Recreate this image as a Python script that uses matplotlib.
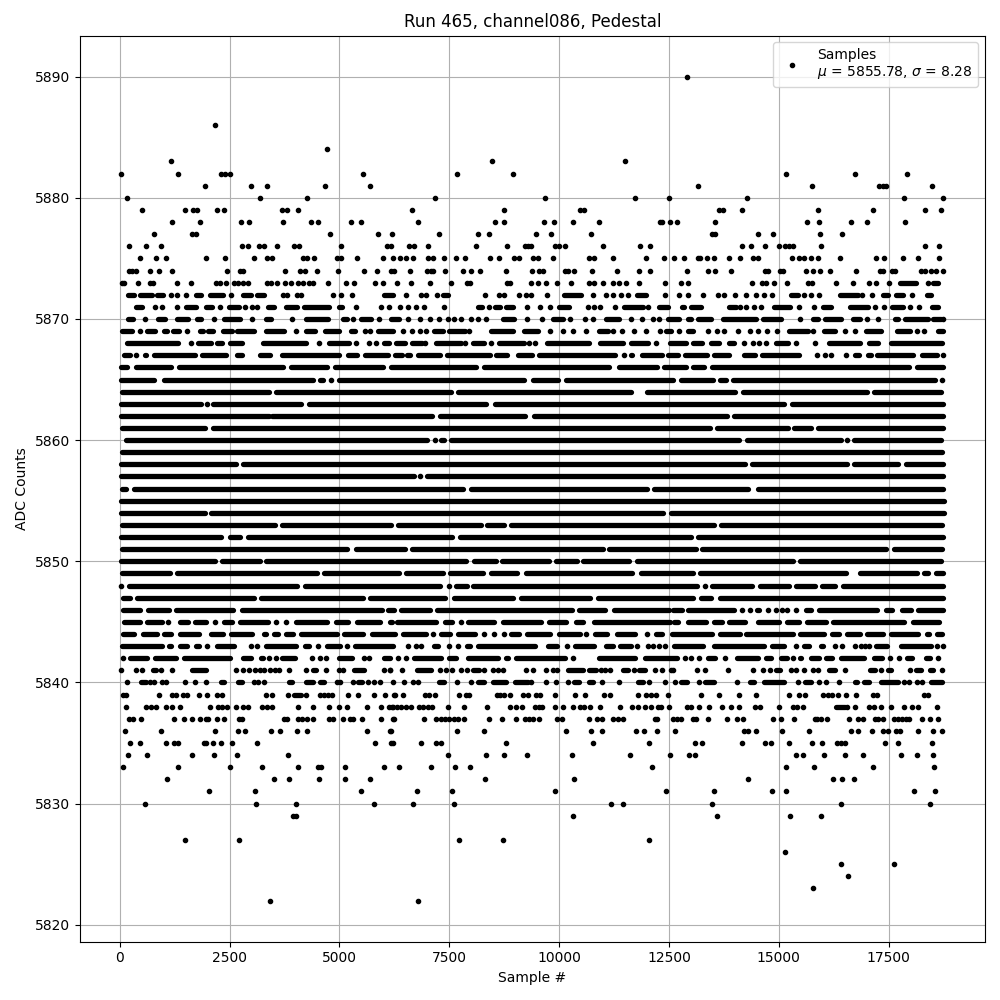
import matplotlib
matplotlib.use('Agg')
import matplotlib.pyplot as plt

# readings per ADC level: a plain number is one sample, (a, b) is a stretch of
# samples too dense to separate in the picture
r5890 = [12918]
r5886 = [2174]
r5884 = [4705]
r5883 = [1171, 8462, 11495]
r5882 = [31, 1331, 2311, 2395, 2516, 5526, 7664, 8941, 15161, 16735, 17920]
r5881 = [1946, 2995, 3360, 4660, 5686, 13155, 15754, 17282, 17373, 17449, 18490]
r5880 = [168, 3200, 4272, 7163, 9671, 11723, 12498, 14272, 17852, 18741]
r5879 = [510, 1490, 1673, 1764, 2220, 2380, 3694, 3816, 4067, 6661, 8736, 10476, 10560,
         13634, 13725, 14158, 15891, 17145, 18331, 18695]
r5878 = [1194, 1832, 2767, 2950, 3725, 4363, 4500, 5252, 5480, 6798, 8531, 8736, 9648, 9876,
         10309, 10902, 12300, 12346, 12521, 12676, 13543, 15640, 15914, 16643, 17008, 17875]
r5877 = [784, 1650, 1741, 4774, 5868, 6205, 7254, 8143, 8394, 9465, 9807, 10719,
         13474, 13543, 14523, 14865, 15937, 16438]
r5876 = [214, 601, 943, 2790, 2927, 3178, 3292, 3588, 3976, 4090, 5024, 6073, 6167, 6585, 6707,
         7026, 8097, 8804, 9215, 9283, 9351, 9899, 9990, 10127, 10993, 11837, 12065,
         14158, 14363, 14683, 15002, 15138, 15230, 15321, 15959, 18331, 18650]
r5875 = [464, 829, 1057, 1969, 2402, 3064, 3360, 3474, 4181, 4272, 4409, 4933, 5024, 5389, 5982,
         6228, 6387, 6524, 6684, 7026, 7140, 7368, 7641, 7847, 8417, 8622, 8964, 9078, 9397, 9511,
         9853, 10689, 10803, 11221, 11973, 12384, 12608, 12836, 13155, 13208, 13360, 13520, 13862,
         14113, 14409, 14523, 15298, 15458, 15572, 15731, 15891, 16393, 17213, 17396, 17829, 18171, 18650]
r5874 = [214, 282, 373, 692, 898, 1194, 2448, 2744, 2813, 3770, 4112, 4226, 4477, 4956, 5549, 5845,
         6167, 6251, 6615, 7003, 7079, 7140, 7413, 7801, 7983, 8188, 8781, 9374, 9534, 9625, 10127,
         10195, 10332, 10742, 11312, 11814, 12065, 12904, 13383, 13543, 13907, 14690, 14760, 15032,
         15093, 15617, 15777, 15937, 16165, 16757, 17297, 17373, 17586, 17647, 18247, 18323, 18467,
         18574, 18741]
r5873 = [54, 100, 419, 692, 761, 1308, 1627, 2197, 2288, 2425, 2608, 2699, 2813, 2927, 3360, 3451,
         3588, 3770, 3907, 4067, 4181, 4295, 4386, 4728, 5138, 5321, 5800, 5982, 6311, 6638, 7049,
         7527, 7892, 7976, 8804, 8880, 9351, 9511, 9693, 9944, 10263, 10674, 10788, 10993, 11221,
         11358, 11517, 11814, 12407, 12775, 12927, 14394, 14620, 14700, 14888, 15184, 15663, 15762,
         16309, 16689, 17054, 17213, 17510, (17753, 18118), 18399, (18500, 18627)]
r5872 = [(176, 328), (449, 723), (837, 989), 1156, 1308, 1513, (1741, 1840), (2053, 2357), 2539,
         (2805, 2980), (3132, 3284), 3717, 3816, 4044, 4120, 4842, 5024, 5283, (6020, 6225), 6524,
         6866, 6980, 7231, (7345, 7459), 8318, 8622, 8743, 9078, 9237, 9351, 9716, (10118, 10499),
         10765, 11061, 11236, 11403, 11563, (11768, 11981), 12399, 12737, 12927, 13269, 13611, 13748,
         14001, 14249, 14477, 14660, 14835, (15283, 15435), 15572, 15731, 15914, (16385, 16803), 16894,
         17122, (17373, 17487), (17677, 17829), 18034, (18376, 18475)]
r5871 = [(358, 510), 806, 966, 1293, (1498, 1741), (1954, 2106), 2288, (2486, 2714), 2858, 3003, 3132,
         (3383, 3512), (3778, 4044), (4196, 4766), (4994, 5055), 5366, 5936, 6119, 6387, 6570, 6752, 6935,
         7368, (8143, 8234), 8394, (8531, 8652), (8789, 8956), 9275, 9557, 9792, (10005, 10233), 10651,
         10788, 10925, 11267, (11472, 11905), 12019, (12262, 12475), (12798, 12850), (13003, 13231),
         (13862, 14029), 14113, 14249, 14432, 14591, (14880, 15245), 15450, 15800, (16005, 16195),
         (16613, 17031), 17191, 17396, (17586, 17829), 17996, 18194, (18490, 18627)]
r5870 = [(191, 297), 571, (875, 1027), (1308, 1559), (1764, 1840), 2152, (2372, 2737), 3018, (3322, 3436),
         3922, (4234, 4728), (5070, 5161), 5298, (5488, 5716), 5906, (6172, 6357), 6570, 6843, 7049, 7254,
         7459, 7596, 7755, 7983, 8143, 8333, (8713, 8979), 9275, 9602, (9853, 10081), 10256, 10598, 10780,
         (11069, 11373), 11639, 11882, 12133, 12270, (12475, 12737), (12927, 13000), (13155, 13459),
         (13725, 14485), (14637, 15055), 15481, (15777, 15891), (16043, 16423), (16689, 16856), 17008,
         17259, (17639, 17715), (17867, 18399), (18513, 18680), 18741]
r5869 = [(39, 267), 464, (624, 799), (1004, 1080), (1217, 1346), 1536, (1817, 1893), (2015, 2129),
         (2357, 2562), (2676, 3056), (3322, 3740), 4006, (4249, 4447), (4675, 4994), (5260, 5359), 5587,
         5693, (5868, 6210), 6456, 6661, 6843, 6980, (7155, 7345), (7497, 7850), 7953, (8447, 8941),
         (9207, 9511), 9792, 10081, 10309, 10613, (10917, 11107), 11221, 11426, 11700, 11966, 12300,
         (12437, 12551), 12737, (12927, 13041), 13383, 13588, 13748, 14082, 14348, 14523, 14721, 14964,
         (15230, 15663), 15777, (16020, 16271), 16514, 16735, (16993, 17335), (17700, 17996), 18148, 18308,
         (18627, 18741)]
r5868 = [(153, 1323), 1612, (1787, 2068), (2220, 2334), (2501, 2790), (3261, 4234), 4523, (4766, 5222), 5374,
         5678, 5830, (6020, 6134), (6296, 6494), (6661, 6889), 6950, (7193, 7763), 7847, (8029, 8295), 8447,
         (8637, 9207), 9321, 9458, (9716, 10689), (10932, 11449), (11639, 12019), 12201, (12513, 12889),
         (13041, 13254), (13459, 13649), (13862, 13991), 14204, 14409, 14546, 14713, (14941, 15207), 15397,
         15815, (16142, 16841), (17046, 17259), (17563, 18703)]
r5867 = [(100, 221), 373, (571, 601), (776, 1703), (1863, 2410), (2676, 2775), (3185, 3413), (3687, 4994),
         (5192, 5404), (5572, 6111), (6271, 6420), (6532, 6600), (6783, 7284), (7444, 8424), (8561, 8819),
         (9063, 9374), (9549, 11274), 11472, (11639, 11669), (11890, 12338), (12483, 12715), (12874, 13360),
         (13535, 13877), (14204, 14462), (14607, 15450), 15868, 16043, 16195, 16529, (16735, 16826),
         (17039, 17099), (17244, 18057), (18270, 18589), 18741]
r5866 = [(24, 160), (358, 1171), (1354, 3717), (3892, 4720), (4903, 5982), (6180, 8105), (8287, 11145),
         (11358, 12224), (12384, 12889), (13041, 13299), (13482, 17958), (18156, 18741)]
r5865 = [(24, 776), (1012, 4386), (4561, 4629), 4812, (4979, 9207), (9397, 9982), (10157, 12585),
         (12775, 13512), (13657, 13801), (13953, 18566), 18703]
r5864 = [(39, 3398), (3550, 7527), (7695, 11631), (12004, 14006), (14189, 17008), (17168, 18695)]
r5863 = [(20, 1855), 1992, (2129, 4135), (4310, 8333), (8546, 15108), (15291, 18741)]
r5862 = [(20, 3400), (3470, 7117), (7292, 9230), (9420, 13816), (13983, 18741)]
r5861 = [(39, 1946), (2114, 13436), (13596, 15199), (15351, 15731), (15883, 18741)]
r5860 = [(130, 6995), 7170, (7315, 7375), (7543, 14097), (14280, 16415), 16552, (16719, 18695)]
r5859 = [(39, 18710)]
r5858 = [(20, 2638), (2805, 14234), (14394, 16552), (16712, 17707), (17905, 18741)]
r5857 = [(20, 6691), 6828, (6988, 18741)]
r5856 = [(39, 145), (312, 7816), (7999, 11996), (12156, 14295), (14531, 18741)]
r5855 = [(20, 18756)]
r5854 = [(20, 1931), (2083, 12361), (12536, 18756)]
r5853 = [(39, 3527), (3687, 6164), (6332, 8211), (8363, 8751), (8911, 13535), (13695, 18718)]
r5852 = [(20, 2311), (2509, 2729), (2912, 7565), (7733, 12995), (13163, 18741)]
r5851 = [(39, 5176), (5374, 6486), (6646, 10993), (11145, 13117), (13254, 17449), (17624, 18718)]
r5850 = [(20, 2159), (2319, 3185), (3330, 7869), (8059, 8553), (8698, 9769), (9929, 10400), (10552, 11586),
         (11776, 15321), (15488, 18695)]
r5849 = [(39, 1133), (1293, 4477), (4644, 6357), (6509, 7345), (7520, 8257), (8455, 9047), (9245, 11654),
         (11852, 13041), (13216, 16529), (16841, 18148), (18308, 18391), (18574, 18741)]
r5848 = [20, (206, 4044), (4219, 7284), 7482, (7649, 7892), (8037, 13132), 13315, (13482, 14386), (14561, 15222),
         (15397, 15830), (15990, 16286), (16469, 18741)]
r5847 = [(62, 236), (388, 3064), (3216, 5541), (5701, 7398), (7603, 8956), (9139, 10704), (10887, 13056),
         (13231, 13451), (13672, 18741)]
r5846 = [(62, 449), (632, 1118), (1270, 2577), (2775, 5959), (6104, 6235), (6403, 7056), (7216, 10286),
         (10461, 11046), (11244, 12490), (12600, 12790), (12935, 13991), 14158, 14348, (14500, 14560), 14743,
         14941, 15078, 15192, 15397, (15625, 15739), (15914, 17236), (17434, 17578), (17814, 18019), (18179, 18741)]
r5845 = [(99, 449), (609, 966), 1103, (1369, 1551), (1711, 1954), 2167, (2380, 2547), (2737, 3383), 3565, 3778,
         (4006, 4705), (4918, 5199), (5397, 5921), (6157, 6190), (6311, 7193), (7406, 7550), 7755, (7923, 8515),
         (8713, 9579), (9777, 10157), (10385, 10552), (10795, 12520), (12608, 12714), (12935, 13345), (13535, 13702),
         (13877, 14234), (14531, 14994), (15192, 15450), (15640, 16081), (16241, 17844), (18057, 18642)]
r5844 = [(62, 320), (533, 844), (1004, 1171), (1361, 1802), (2068, 2349), (2532, 3018), (3276, 3322), (3520, 3611),
         (3778, 3945), (4128, 4933), (5108, 5526), (5739, 6258), (6441, 6965), 7140, (7315, 7512), (7695, 8082), 8280,
         8523, 8736, (8911, 9093), (9268, 9792), (9990, 10476), 10613, (10826, 11084), (11320, 11730), 12004,
         (12194, 12338), (12574, 13474), (13672, 14105), (14257, 15321), (15473, 16020), (16218, 16362), (16560, 16841),
         (17016, 17373), (17548, 18163), (18369, 18414), (18597, 18718)]
r5843 = [(39, 966), (1118, 1171), (1369, 1536), (1726, 1802), 1977, (2205, 2592), 2980, 3117, (3322, 4021),
         (4219, 4295), 4500, (4713, 5009), 5161, (5359, 6225), 6562, 6737, 6866, (7155, 7246), 7497, 7687,
         (7907, 7968), (8151, 9450), (9739, 9944), 10172, (10370, 10795), (11069, 11221), (11396, 11631), 11768,
         12019, 12133, 12262, 12407, (12612, 13269), (13520, 14652), (14850, 15108), 15382, (15572, 15678),
         (15952, 15997), 16271, 16446, 16735, 16864, 16955, 17054, (17206, 17464), (17776, 18475), 18604, 18741]
r5842 = [62, (229, 616), (799, 1285), (1468, 2516), (2813, 2995), (3216, 3261), 3406, 3550, (3702, 3983), 4371, 4553,
         4690, (4979, 5275), 5564, 5678, (6005, 6149), 6324, 6509, (6707, 7322), (7497, 7641), (7923, 8614),
         (8797, 8842), (9017, 10134), 10309, (10917, 11730), (11943, 12676), 12858, 12995, 13178, (13383, 13550),
         13786, (14037, 14515), (14698, 14819), (15040, 15184), 15321, (15488, 15511), (15724, 15906), (16081, 16210),
         (16408, 16932), (17168, 17350), 17525, 17730, (17913, 18034), (18346, 18452), 18627]
r5841 = [31, 358, 510, (753, 814), 943, 1194, (1635, 1969), 2638, 2805, 2942, 3079, 3185, 3292, 3428, 3527, 3626,
         3862, 4249, (4401, 4462), 4690, 4980, 5085, (5336, 5564), 6005, 6142, 6152, 6433, (6775, 7079), 7284, 7421,
         7565, 7755, 7892, (8029, 8166), 8295, 8485, 8599, 8713, 9245, 9397, 9701, 9853, 9944, (10195, 10537),
         (10689, 10841), 10955, 11054, 11160, (11449, 11563), 11715, (11814, 11943), 12171, 12338, 12551, 12585,
         13147, 13315, 13839, 14409, 14637, 14797, (14926, 15032), 15275, 15382, 15564, 15777, 15883, (16142, 16271),
         16507, (17069, 17183), 17327, (17487, 17563), 17981, (18118, 18225), (18437, 18513), 18711]
r5840 = [168, (487, 586), 677, 784, 966, 1042, 1490, 1711, 1969, (2296, 2372), (2699, 2775), 3064, 3155, 3292,
         (3854, 3915), (4249, 4386), (4553, 4652), 4950, 5010, 5298, (5412, 5503), 5640, 5777, 5914, 6210, 6479,
         6676, 6798, (7254, 7383), 7664, 7991, (8143, 8295), (8500, 8789), (9002, 9283), 9359, 9701, 9929, 10195,
         (10347, 10446), (10674, 10765), 10978, 11373, (11791, 11905), 12042, 12407, 12627, (12775, 12904), 13193,
         (13330, 13535), 14044, (14333, 14424), (14660, 15116), 15435, (15587, 15739), 15906, 16081, 16370,
         (16727, 16788), (16932, 17046), (17335, 17715), 17852, 17966, 18148, 18262, (18475, 18703)]
r5839 = [69, 130, 898, 1194, 1270, 1437, 1528, 1810, 1992, 2220, 2319, 3337, 3474, 3839, (3976, 4120), 4249, 4553,
         4652, 4743, 4819, 5184, 5412, 5777, 6043, 6243, 6256, 6448, 6942, 7041, 7163, 7710, 7877, 7953, 8576, 8652,
         8751, 8873, 9169, 9298, 9473, 9564, 9914, 10355, 10583, 11031, 11153, 11791, 11981, 12095, 12209, 12475,
         13223, 13649, 14090, 14477, 15230, 15458, 15595, 16005, 16119, 16218, 16347, 16529, 16757, 17145, 17244,
         18308, 18399]
r5838 = [145, 601, 700, 829, 1057, 1194, 1376, 2045, 2243, 2334, 2448, 2653, 2813, 2919, 3246, 3360, 3459, 4067, 4386,
         4751, 4979, 5161, 5617, 5936, 6134, 6190, 6225, 6319, 6395, 6524, 6623, 6813, 6904, 7026, 7117, 7459, 7839,
         8348, 8873, 9025, 9146, 9450, 9549, 9610, 9899, 10081, 10309, 10476, 10575, 10704, 10925, 11381, 11654, 11791,
         11958, 12095, 12247, 12323, 12498, 12904, 13003, 13178, 13406, 13702, 13907, 14090, 14455, 14569, 15002, 15321,
         15412, 15549, (16309, 16499), 16560, 16735, 17054, 17168, 17327, 17555, 17852, 18034, 18171, 18604]
r5837 = [206, 297, 487, 1240, 1468, 1650, 1832, 1954, 2015, 2220, 2364, 2714, 2790, 3740, 3816, 4067, 4158, 4272, 4394,
         4751, 4857, 5070, 5237, 5313, 5503, 5936, 6228, 6233, 6935, 7208, 7307, 7406, 7482, 7611, 7687, 7824, 8394,
         8690, 9009, 9230, 9321, 9397, 9534, 9952, 10058, 10674, 10856, 10978, 11236, 11335, 11449, 12179, 12224, 12589,
         12680, 12783, 13041, 13117, 13383, 13816, 14044, 14181, 14865, 15047, 15344, 15815, 15876, 15967, 16096, 16598,
         16803, 16917, 17183, 17259, 17381, 17616, 17715, 17806, 17905, 17966, 18255, 18445, 18627]
r5836 = [122, 943, 2174, 2699, 2858, 3451, 3656, 4044, 4272, 5617, 6149, 6167, 7664, 8280, 10149, 10719, 10970, 11745,
         11928, 12224, 12635, 14204, 14303, 14477, 15070, 15686, 16643, 16803, 17122, 17373, 17487, 17677, 17768, 18171,
         18513, 18718]
r5835 = [236, 464, 1057, 1232, 1316, 1916, 1969, 2129, 2311, 2562, 3132, 5800, 6172, 6228, 6866, 7208, 7307, 8781, 10765,
         12042, 13087, 13246, 14158, 14683, 14819, 15230, 15754, 15982, 16324, 16423, 16499, 17419, 17715, 18490]
r5834 = [191, 624, 1635, 2152, 2676, 3839, 7459, 8325, 8736, 9260, 10286, 11609, 12521, 12965, 13087, 15389, 15549, 16028,
         16507, 16917, 17783, 18148, 18513]
r5833 = [62, 1331, 2516, 3246, 4067, 4500, 4570, 5116, 6005, 6362, 7079, 7634, 7961, 12110, 15161, 15800, 17145, 18536]
r5832 = [1080, 3520, 3862, 4523, 5116, 5686, 8303, 10332, 14295, 16233, 16438, 16712]
r5831 = [2038, 3086, 5480, 6775, 7550, 9899, 12429, 13520, 14842, 15161, 18080, 18559]
r5830 = [578, 3109, 4021, 5777, 6684, 7596, 11175, 11449, 13474, 16415, 18445]
r5829 = [3950, 4010, 10309, 13588, 15253, 15959]
r5827 = [1490, 2722, 7710, 8713, 12042]
r5826 = [15138]
r5825 = [16415, 17624]
r5824 = [16575]
r5823 = [15777]
r5822 = [3428, 6798]

levels = [5890, 5886, 5884, 5883, 5882, 5881, 5880, 5879, 5878, 5877, 5876, 5875, 5874, 5873, 5872, 5871, 5870,
          5869, 5868, 5867, 5866, 5865, 5864, 5863, 5862, 5861, 5860, 5859, 5858, 5857, 5856, 5855, 5854, 5853,
          5852, 5851, 5850, 5849, 5848, 5847, 5846, 5845, 5844, 5843, 5842, 5841, 5840, 5839, 5838, 5837, 5836,
          5835, 5834, 5833, 5832, 5831, 5830, 5829, 5827, 5826, 5825, 5824, 5823, 5822]
readings = [r5890, r5886, r5884, r5883, r5882, r5881, r5880, r5879, r5878, r5877, r5876, r5875, r5874, r5873, r5872,
            r5871, r5870, r5869, r5868, r5867, r5866, r5865, r5864, r5863, r5862, r5861, r5860, r5859, r5858, r5857,
            r5856, r5855, r5854, r5853, r5852, r5851, r5850, r5849, r5848, r5847, r5846, r5845, r5844, r5843, r5842,
            r5841, r5840, r5839, r5838, r5837, r5836, r5835, r5834, r5833, r5832, r5831, r5830, r5829, r5827, r5826,
            r5825, r5824, r5823, r5822]

xs = []
ys = []
plt.figure(figsize=(10, 10), dpi=100)
for level, row in zip(levels, readings):
    for item in row:
        if isinstance(item, tuple):
            plt.plot(item, [level, level], 'k-', lw=3.8, solid_capstyle='round')
        else:
            xs.append(item)
            ys.append(level)

plt.plot(xs, ys, 'k.', label='Samples\n$\\mu$ = 5855.78, $\\sigma$ = 8.28')
plt.title('Run 465, channel086, Pedestal')
plt.xlabel('Sample #')
plt.ylabel('ADC Counts')
plt.grid(True)
plt.legend(loc='upper right')
plt.tight_layout()
plt.subplots_adjust(top=0.9645)
plt.savefig('out.png')
